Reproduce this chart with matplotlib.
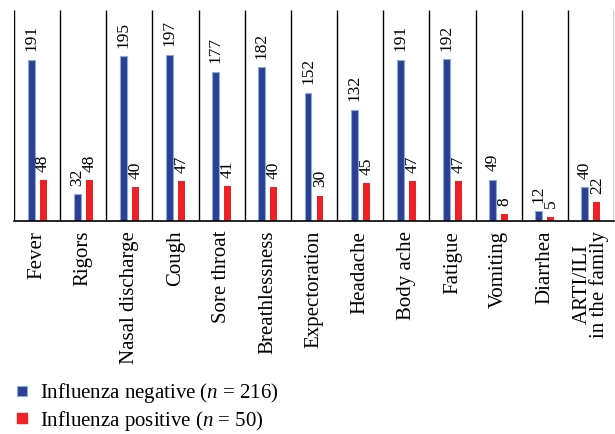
import numpy as np
import matplotlib.pyplot as plt
from matplotlib.lines import Line2D

plt.rcParams['font.family'] = ['Liberation Serif', 'DejaVu Serif']
plt.rcParams['mathtext.fontset'] = 'custom'
plt.rcParams['mathtext.it'] = 'Liberation Serif:italic'
plt.rcParams['mathtext.rm'] = 'Liberation Serif'

categories = ['Fever', 'Rigors', 'Nasal discharge', 'Cough', 'Sore throat',
              'Breathlessness', 'Expectoration', 'Headache', 'Body ache',
              'Fatigue', 'Vomiting', 'Diarrhea', 'ARTI/ILI\nin the family']
negative = [191, 32, 195, 197, 177, 182, 152, 132, 191, 192, 49, 12, 40]
positive = [48, 48, 40, 47, 41, 40, 30, 45, 47, 47, 8, 5, 22]

blue = '#2d3e93'
blue_edge = '#86aedc'
red = '#ee2226'

fig = plt.figure(figsize=(6.15, 4.34), dpi=100)
ax = fig.add_axes([14 / 615, 1 - 221 / 434, 600 / 615, 211 / 434])

x = np.arange(len(categories))
w = 0.15
off = 0.13
ax.bar(x - off, negative, w, color=blue, edgecolor=blue_edge, linewidth=0.8)
ax.bar(x + off, positive, w, color=red, linewidth=0)

# value labels above each bar
for xi, v in zip(x, negative):
    ax.annotate(str(v), (xi - off, v), xytext=(0, 6), textcoords='offset points',
                rotation=90, ha='center', va='bottom', fontsize=12.5)
for xi, v in zip(x, positive):
    ax.annotate(str(v), (xi + off, v), xytext=(0, 6), textcoords='offset points',
                rotation=90, ha='center', va='bottom', fontsize=12.5)

ax.set_xlim(-0.5, len(categories) - 0.5)
ax.set_ylim(0, 250)
ax.vlines(np.arange(len(categories) + 1) - 0.5, 0, 250, color='black', linewidth=1)

for s in ['top', 'right', 'left']:
    ax.spines[s].set_visible(False)
ax.spines['bottom'].set_linewidth(1.2)
ax.set_yticks([])
ax.set_xticks(x)
ax.set_xticklabels(categories, rotation=90, fontsize=15, ha='center', va='top',
                   multialignment='center', linespacing=0.85)
ax.tick_params(axis='x', length=0, pad=7)

handles = [
    Line2D([], [], marker='s', linestyle='none', markersize=7.5,
           markerfacecolor=blue, markeredgecolor=blue_edge, markeredgewidth=0.8),
    Line2D([], [], marker='s', linestyle='none', markersize=7.5,
           markerfacecolor=red, markeredgecolor=red),
]
fig.legend(handles, ['Influenza negative ($n$ = 216)', 'Influenza positive ($n$ = 50)'],
           loc='center left', bbox_to_anchor=(14.7 / 615, 1 - 407 / 434),
           frameon=False, fontsize=15, borderpad=0, borderaxespad=0,
           handlelength=0.7, handletextpad=0.5, labelspacing=0.15)

fig.savefig('out.png', dpi=100)
